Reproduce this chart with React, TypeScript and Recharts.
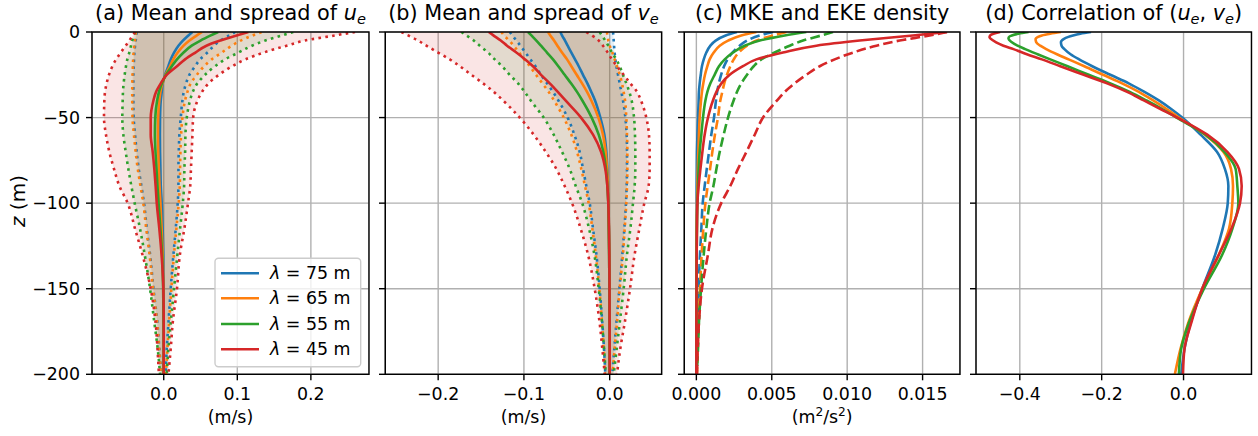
import React from "react";
import { Area, CartesianGrid, ComposedChart, Line, XAxis, YAxis } from "recharts";

const lambdas = [75, 65, 55, 45];
const lambdaColors = ["#1f77b4", "#ff7f0e", "#2ca02c", "#d62728"];

const depth = [0, -2, -5, -8, -12, -16, -20, -25, -30, -35, -40, -50, -60, -70, -80, -90, -100, -115, -130, -150, -170, -185, -200];
const depthD = [0, -1, -2, -3, -4, -6, -8, -10, -13, -16, -20, -25, -30, -35, -40, -45, -50, -60, -70, -80, -90, -100, -115, -130, -150, -170, -185, -200];
const zTicks = [-200, -150, -100, -50, 0];

// (a) u_e : mean, mean - spread, mean + spread
const uMean75 = [0.039, 0.0335, 0.026, 0.02, 0.014, 0.0095, 0.0063, 0.0018, -0.0014, -0.0027, -0.004, -0.005, -0.0052, -0.005, -0.0045, -0.004, -0.0027, -0.0015, -0.0006, -0.0002, 0, 0, 0];
const uMean65 = [0.052, 0.045, 0.035, 0.027, 0.019, 0.013, 0.0085, 0.0025, -0.0018, -0.0045, -0.006, -0.0075, -0.0078, -0.0074, -0.0066, -0.0057, -0.0045, -0.0028, -0.0014, -0.0005, -0.0001, 0, 0];
const uMean55 = [0.074, 0.064, 0.05, 0.038, 0.027, 0.018, 0.011, 0.003, -0.0025, -0.0065, -0.009, -0.0115, -0.012, -0.0112, -0.0098, -0.0085, -0.007, -0.0045, -0.0022, -0.0008, -0.0002, 0, 0];
const uMean45 = [0.115, 0.099, 0.077, 0.058, 0.043, 0.029, 0.018, 0.004, -0.004, -0.0105, -0.014, -0.0177, -0.0177, -0.015, -0.0128, -0.011, -0.0095, -0.006, -0.003, -0.0005, 0, 0, 0];

const uLo75 = [-0.0368, -0.0372, -0.0381, -0.039, -0.0399, -0.0404, -0.0409, -0.0413, -0.0413, -0.0413, -0.0413, -0.0409, -0.039, -0.0368, -0.034, -0.0304, -0.0268, -0.023, -0.0186, -0.014, -0.0086, -0.006, -0.0032];
const uLo65 = [-0.0377, -0.0382, -0.039, -0.04, -0.041, -0.0416, -0.042, -0.0425, -0.0427, -0.0428, -0.0428, -0.0425, -0.0405, -0.0382, -0.0353, -0.0316, -0.0278, -0.0238, -0.0193, -0.0145, -0.009, -0.0063, -0.0035];
const uLo55 = [-0.039, -0.0404, -0.0427, -0.0445, -0.0468, -0.0495, -0.0513, -0.0531, -0.0545, -0.0554, -0.0558, -0.0563, -0.0549, -0.0517, -0.0481, -0.044, -0.0395, -0.0322, -0.0259, -0.0186, -0.0127, -0.0082, -0.005];
const uLo45 = [-0.039, -0.0422, -0.0468, -0.0517, -0.0585, -0.0648, -0.0698, -0.0744, -0.0776, -0.0798, -0.0807, -0.0812, -0.0785, -0.074, -0.0676, -0.0603, -0.049, -0.039, -0.029, -0.0177, -0.011, -0.0085, -0.0066];

const uHi75 = [0.0972, 0.0893, 0.0766, 0.0685, 0.0594, 0.0494, 0.0426, 0.0349, 0.0304, 0.0272, 0.0254, 0.0231, 0.0213, 0.0204, 0.02, 0.02, 0.019, 0.0163, 0.0132, 0.0095, 0.0064, 0.0041, 0.0027];
const uHi65 = [0.133, 0.121, 0.1047, 0.0925, 0.0789, 0.0653, 0.055, 0.045, 0.0368, 0.0322, 0.029, 0.0254, 0.0236, 0.0227, 0.0222, 0.0218, 0.0204, 0.0172, 0.014, 0.0104, 0.0073, 0.005, 0.0032];
const uHi55 = [0.176, 0.161, 0.138, 0.12, 0.1016, 0.0834, 0.0698, 0.0562, 0.0458, 0.0395, 0.0358, 0.0313, 0.0295, 0.0291, 0.0281, 0.0277, 0.0259, 0.0222, 0.0186, 0.014, 0.0095, 0.0064, 0.0041];
const uHi45 = [0.26, 0.233, 0.192, 0.167, 0.136, 0.111, 0.093, 0.075, 0.061, 0.052, 0.046, 0.04, 0.039, 0.038, 0.037, 0.036, 0.033, 0.028, 0.022, 0.018, 0.0122, 0.0095, 0.0064];

// (b) v_e
const vMean75 = [-0.0575, -0.0556, -0.0521, -0.049, -0.0447, -0.0404, -0.0361, -0.0311, -0.026, -0.0214, -0.0171, -0.0109, -0.0062, -0.0039, -0.0027, -0.002, -0.0016, -0.001, -0.0006, -0.0003, -0.0001, 0, 0];
const vMean65 = [-0.0719, -0.0692, -0.0649, -0.061, -0.0556, -0.0497, -0.0447, -0.0385, -0.0322, -0.0264, -0.0214, -0.0132, -0.0078, -0.0047, -0.0031, -0.002, -0.0016, -0.001, -0.0006, -0.0003, -0.0001, 0, 0];
const vMean55 = [-0.0952, -0.0913, -0.0855, -0.0801, -0.0731, -0.0661, -0.0599, -0.0525, -0.0451, -0.0381, -0.0319, -0.021, -0.0128, -0.0074, -0.0043, -0.0027, -0.0016, -0.001, -0.0006, -0.0003, -0.0001, 0, 0];
const vMean45 = [-0.141, -0.1356, -0.127, -0.1197, -0.1088, -0.0987, -0.0894, -0.0801, -0.0699, -0.0605, -0.0515, -0.0334, -0.0194, -0.0101, -0.0051, -0.0027, -0.0016, -0.0008, -0.0004, -0.0002, -0.0001, 0, 0];

const vLo75 = [-0.1166, -0.1135, -0.1088, -0.1041, -0.0983, -0.0925, -0.0866, -0.0801, -0.0731, -0.0661, -0.0599, -0.049, -0.0412, -0.035, -0.0311, -0.0272, -0.0233, -0.0194, -0.0155, -0.0117, -0.0086, -0.0066, -0.0051];
const vLo65 = [-0.1263, -0.1232, -0.1173, -0.1119, -0.1057, -0.0995, -0.0932, -0.0859, -0.0785, -0.0711, -0.0649, -0.0536, -0.0447, -0.0381, -0.0331, -0.0288, -0.0245, -0.0202, -0.0163, -0.0121, -0.0089, -0.007, -0.0054];
const vLo55 = [-0.1729, -0.1671, -0.1585, -0.1515, -0.1418, -0.134, -0.1255, -0.1166, -0.1069, -0.0991, -0.0921, -0.077, -0.0653, -0.0556, -0.0466, -0.0396, -0.032, -0.024, -0.0179, -0.0128, -0.0089, -0.0066, -0.0045];
const vLo45 = [-0.2428, -0.235, -0.2234, -0.2137, -0.2001, -0.1865, -0.1748, -0.1613, -0.1477, -0.1352, -0.1243, -0.1049, -0.0886, -0.0746, -0.0622, -0.0525, -0.0439, -0.0338, -0.0253, -0.0175, -0.0117, -0.0086, -0.0058];

const vHi75 = [0.0039, 0.0043, 0.0047, 0.0051, 0.0058, 0.0066, 0.0078, 0.0097, 0.0117, 0.0136, 0.0155, 0.0183, 0.0198, 0.0202, 0.0202, 0.0198, 0.019, 0.0171, 0.0148, 0.0113, 0.0078, 0.0054, 0.0031];
const vHi65 = [-0.0031, -0.0027, -0.0016, 0, 0.0031, 0.0058, 0.0085, 0.0117, 0.0144, 0.0163, 0.0179, 0.0194, 0.0202, 0.0206, 0.0206, 0.0202, 0.0194, 0.0175, 0.0155, 0.0117, 0.0085, 0.0058, 0.0035];
const vHi55 = [-0.0117, -0.009, -0.0051, -0.0016, 0.0027, 0.0078, 0.0117, 0.0155, 0.0194, 0.0229, 0.0256, 0.0284, 0.0295, 0.0299, 0.0299, 0.0291, 0.0272, 0.0241, 0.0202, 0.0163, 0.0117, 0.0082, 0.0047];
const vHi45 = [-0.0272, -0.0206, -0.0128, -0.0078, -0.0023, 0.0027, 0.0085, 0.0163, 0.0241, 0.0319, 0.0365, 0.0427, 0.0458, 0.0466, 0.0466, 0.0454, 0.0404, 0.0346, 0.0291, 0.0237, 0.0175, 0.0124, 0.0085];

// (c) kinetic energy densities
const mke75 = [0.00269, 0.00194, 0.00128, 0.00093, 0.00066, 0.00049, 0.00037, 0.00029, 0.00022, 0.00017, 0.00015, 0.00011, 0.00007, 0.00004, 0.00003, 0.00002, 0.00002, 0.00001, 0.00001, 0, 0, 0, 0];
const mke65 = [0.00398, 0.00298, 0.0021, 0.00155, 0.00115, 0.00088, 0.00073, 0.00057, 0.00046, 0.00037, 0.00031, 0.00022, 0.00017, 0.00013, 0.00009, 0.00007, 0.00004, 0.00002, 0.00001, 0, 0, 0, 0];
const mke55 = [0.00729, 0.00586, 0.0042, 0.0032, 0.00243, 0.00188, 0.0015, 0.00121, 0.00093, 0.00073, 0.0006, 0.00044, 0.00033, 0.00022, 0.00015, 0.00011, 0.00007, 0.00004, 0.00002, 0.00001, 0, 0, 0];
const mke45 = [0.01662, 0.01436, 0.01083, 0.00796, 0.00574, 0.00398, 0.00309, 0.00221, 0.00166, 0.00133, 0.0011, 0.00077, 0.00055, 0.0004, 0.00027, 0.00015, 0.00007, 0.00004, 0.00002, 0.00001, 0, 0, 0];
const eke75 = [0.00508, 0.0042, 0.00336, 0.00287, 0.00239, 0.00206, 0.00184, 0.00164, 0.00149, 0.00138, 0.0013, 0.00117, 0.00099, 0.00084, 0.00069, 0.00055, 0.00042, 0.00033, 0.00024, 0.00015, 0.00009, 0.00005, 0.00002];
const eke65 = [0.00597, 0.00508, 0.004, 0.00336, 0.00281, 0.00248, 0.00225, 0.00203, 0.00185, 0.00172, 0.00159, 0.00143, 0.00123, 0.00106, 0.00091, 0.00075, 0.0006, 0.00046, 0.00035, 0.00024, 0.00015, 0.00009, 0.00004];
const eke55 = [0.00906, 0.00829, 0.00707, 0.00619, 0.00519, 0.00431, 0.0038, 0.00336, 0.00298, 0.00269, 0.00247, 0.0021, 0.00181, 0.00155, 0.00133, 0.00113, 0.00088, 0.00066, 0.00049, 0.00031, 0.00017, 0.00011, 0.00002];
const eke45 = [0.01662, 0.01547, 0.01348, 0.01194, 0.01039, 0.00917, 0.00818, 0.00729, 0.00652, 0.00586, 0.00535, 0.00442, 0.00387, 0.00332, 0.00276, 0.00225, 0.00165, 0.00106, 0.00077, 0.00037, 0.00017, 0.00009, 0.00004];

// (d) correlation of (u_e, v_e), on depthD
const corr75 = [-0.226, -0.252, -0.27, -0.283, -0.292, -0.2995, -0.298, -0.291, -0.276, -0.255, -0.223, -0.179, -0.134, -0.0955, -0.0604, -0.0302, -0.0033, 0.0416, 0.0815, 0.101, 0.1095, 0.108, 0.0955, 0.0775, 0.0457, 0.0171, 0.0024, -0.0057];
const corr65 = [-0.2995, -0.3256, -0.346, -0.3566, -0.3615, -0.3599, -0.3501, -0.3354, -0.3093, -0.2807, -0.2424, -0.1967, -0.1502, -0.1093, -0.0743, -0.0416, -0.0114, 0.0522, 0.0971, 0.1159, 0.1208, 0.1192, 0.111, 0.0865, 0.0457, 0.0114, -0.0073, -0.0212];
const corr55 = [-0.3786, -0.4031, -0.4194, -0.4268, -0.4276, -0.4194, -0.4056, -0.3868, -0.3566, -0.3256, -0.2832, -0.2317, -0.1787, -0.1314, -0.0906, -0.0522, -0.0171, 0.0539, 0.0998, 0.1273, 0.1314, 0.1338, 0.1192, 0.0947, 0.0498, 0.013, -0.0057, -0.0114];
const corr45 = [-0.448, -0.4644, -0.4725, -0.474, -0.4708, -0.4578, -0.4399, -0.4154, -0.3827, -0.346, -0.3011, -0.244, -0.1868, -0.1379, -0.0971, -0.0563, -0.0155, 0.058, 0.1069, 0.1354, 0.142, 0.1379, 0.1167, 0.0865, 0.0457, 0.0188, 0.0024, -0.0016];

const FONT = "DejaVu Sans";
const LW = 2.6;
const DOTTED = "2.6 4.3";
const DASHED = "9.6 4.2";
const PLOT_TOP = 32;
const PLOT_BOTTOM = 374.3;

function buildRows(z: number[], groups: Record<string, number[][]>) {
  return z.map((d, i) => {
    const row: Record<string, number> = { z: d };
    for (const key of Object.keys(groups)) {
      groups[key].forEach((arr, j) => {
        row[`${key}${j}`] = arr[i];
      });
    }
    return row;
  });
}

const rowsA = buildRows(depth, {
  mean: [uMean75, uMean65, uMean55, uMean45],
  lo: [uLo75, uLo65, uLo55, uLo45],
  hi: [uHi75, uHi65, uHi55, uHi45],
});
const rowsB = buildRows(depth, {
  mean: [vMean75, vMean65, vMean55, vMean45],
  lo: [vLo75, vLo65, vLo55, vLo45],
  hi: [vHi75, vHi65, vHi55, vHi45],
});
const rowsC = buildRows(depth, {
  mke: [mke75, mke65, mke55, mke45],
  eke: [eke75, eke65, eke55, eke45],
});
const rowsD = buildRows(depthD, { corr: [corr75, corr65, corr55, corr45] });

const minus = (s: string) => s.replace("-", "\u2212");
const fmt1 = (v: number) => (Math.abs(v) < 1e-9 ? "0.0" : minus(v.toFixed(1)));
const fmt3 = (v: number) => v.toFixed(3);
const fmtZ = (v: number) => (v === 0 ? "0" : minus(String(v)));

const tickText = { fill: "#000", fontSize: 17.4 };
const tickLine = { stroke: "#000", strokeWidth: 1.4 };
// panels b-d keep their tick marks but show no labels
const noLabel = () => <g />;

function line(key: string, color: string, dash?: string) {
  return (
    <Line
      key={key}
      type="monotone"
      dataKey={key}
      stroke={color}
      strokeWidth={LW}
      strokeDasharray={dash}
      dot={false}
      activeDot={false}
      isAnimationActive={false}
    />
  );
}

function spreadSeries() {
  return [
    ...lambdaColors.map((c, j) => (
      <Area
        key={`band${j}`}
        type="monotone"
        dataKey={(r: any) => [r[`lo${j}`], r[`hi${j}`]]}
        stroke="none"
        fill={c}
        fillOpacity={0.12}
        activeDot={false}
        isAnimationActive={false}
      />
    )),
    ...lambdaColors.flatMap((c, j) => [line(`lo${j}`, c, DOTTED), line(`hi${j}`, c, DOTTED)]),
    ...lambdaColors.map((c, j) => line(`mean${j}`, c)),
  ];
}

interface PanelProps {
  left: number;
  width: number;
  yWidth: number;
  rows: Record<string, number>[];
  domain: [number, number];
  ticks: number[];
  fmt: (v: number) => string;
  yLabels?: boolean;
  children: React.ReactNode;
}

function Panel({ left, width, yWidth, rows, domain, ticks, fmt, yLabels, children }: PanelProps) {
  return (
    <div style={{ position: "absolute", left, top: 0 }}>
      <ComposedChart
        width={width}
        height={436}
        layout="vertical"
        data={rows}
        margin={{ top: PLOT_TOP, right: 0, bottom: 0, left: 0 }}
      >
        <CartesianGrid stroke="#b0b0b0" strokeWidth={1.4} />
        <XAxis
          type="number"
          domain={domain}
          allowDataOverflow
          ticks={ticks}
          interval={0}
          tickFormatter={fmt}
          height={436 - PLOT_BOTTOM}
          tickSize={6}
          tickMargin={7}
          axisLine={false}
          stroke="#000"
          tickLine={tickLine}
          tick={tickText}
        />
        <YAxis
          type="number"
          dataKey="z"
          domain={[-200, 0]}
          allowDataOverflow
          ticks={zTicks}
          interval={0}
          reversed
          tickFormatter={fmtZ}
          width={yWidth}
          tickSize={6}
          tickMargin={6}
          axisLine={false}
          stroke="#000"
          tickLine={tickLine}
          tick={yLabels ? tickText : noLabel}
        />
        {children}
      </ComposedChart>
    </div>
  );
}

const frames = [
  { x: 92, w: 277 },
  { x: 385.3, w: 276.4 },
  { x: 684.3, w: 275.7 },
  { x: 976, w: 275.5 },
];
const cx = (i: number) => frames[i].x + frames[i].w / 2;
const legendRows = [273.3, 298.3, 324, 349.3];
const SIDE = 40;

export default function App() {
  return (
    <div
      style={{
        position: "absolute",
        left: 0,
        top: 0,
        width: 1258,
        height: 436,
        background: "#fff",
        fontFamily: FONT,
        overflow: "hidden",
      }}
    >
      <Panel left={0} width={369} yWidth={92} rows={rowsA} domain={[-0.0975, 0.279]} ticks={[0, 0.1, 0.2]} fmt={fmt1} yLabels>
        {spreadSeries()}
      </Panel>
      <Panel left={385.3 - SIDE} width={276.4 + SIDE} yWidth={SIDE} rows={rowsB} domain={[-0.262, 0.0603]} ticks={[-0.2, -0.1, 0]} fmt={fmt1}>
        {spreadSeries()}
      </Panel>
      <Panel left={684.3 - SIDE} width={275.7 + SIDE} yWidth={SIDE} rows={rowsC} domain={[-0.00082, 0.01746]} ticks={[0, 0.005, 0.01, 0.015]} fmt={fmt3}>
        {lambdaColors.flatMap((c, j) => [line(`mke${j}`, c), line(`eke${j}`, c, DASHED)])}
      </Panel>
      <Panel left={976 - SIDE} width={275.5 + SIDE} yWidth={SIDE} rows={rowsD} domain={[-0.507, 0.166]} ticks={[-0.4, -0.2, 0]} fmt={fmt1}>
        {lambdaColors.map((c, j) => line(`corr${j}`, c))}
      </Panel>

      <svg
        width={1258}
        height={436}
        style={{ position: "absolute", left: 0, top: 0, pointerEvents: "none", fontFamily: FONT }}
      >
        {frames.map((f, i) => (
          <rect key={i} x={f.x} y={PLOT_TOP} width={f.w} height={PLOT_BOTTOM - PLOT_TOP} fill="none" stroke="#000" strokeWidth={1.4} />
        ))}

        <text x={cx(0)} y={20} textAnchor="middle" fontSize={20.8}>
          (a) Mean and spread of <tspan fontStyle="italic">u</tspan>
          <tspan fontStyle="italic" fontSize={14.6} dy={4}>e</tspan>
        </text>
        <text x={cx(1)} y={20} textAnchor="middle" fontSize={20.8}>
          (b) Mean and spread of <tspan fontStyle="italic">v</tspan>
          <tspan fontStyle="italic" fontSize={14.6} dy={4}>e</tspan>
        </text>
        <text x={cx(2)} y={20} textAnchor="middle" fontSize={20.8}>
          (c) MKE and EKE density
        </text>
        <text x={cx(3)} y={20} textAnchor="middle" fontSize={20.8}>
          (d) Correlation of (<tspan fontStyle="italic">u</tspan>
          <tspan fontStyle="italic" fontSize={14.6} dy={4}>e</tspan>
          <tspan dy={-4}>, </tspan>
          <tspan fontStyle="italic">v</tspan>
          <tspan fontStyle="italic" fontSize={14.6} dy={4}>e</tspan>
          <tspan dy={-4}>)</tspan>
        </text>

        <text x={cx(0)} y={423} textAnchor="middle" fontSize={17.4}>(m/s)</text>
        <text x={cx(1)} y={423} textAnchor="middle" fontSize={17.4}>(m/s)</text>
        <text x={cx(2)} y={423} textAnchor="middle" fontSize={17.4}>
          (m<tspan fontSize={12.2} dy={-7}>2</tspan>
          <tspan dy={7}>/s</tspan>
          <tspan fontSize={12.2} dy={-7}>2</tspan>
          <tspan dy={7}>)</tspan>
        </text>

        <text x={18} y={201} transform="rotate(-90 18 201)" textAnchor="middle" dominantBaseline="central" fontSize={20}>
          <tspan fontStyle="italic">z</tspan> (m)
        </text>

        <rect x={215} y={258.3} width={145.7} height={108.4} rx={3.5} fill="#fff" fillOpacity={0.8} stroke="#cccccc" strokeWidth={1.4} />
        {lambdas.map((lam, j) => (
          <g key={lam}>
            <line x1={221} x2={259} y1={legendRows[j]} y2={legendRows[j]} stroke={lambdaColors[j]} strokeWidth={LW} />
            <text x={270} y={legendRows[j] + 6} fontSize={17.4}>
              <tspan fontStyle="italic">λ</tspan> = {lam} m
            </text>
          </g>
        ))}
      </svg>
    </div>
  );
}
